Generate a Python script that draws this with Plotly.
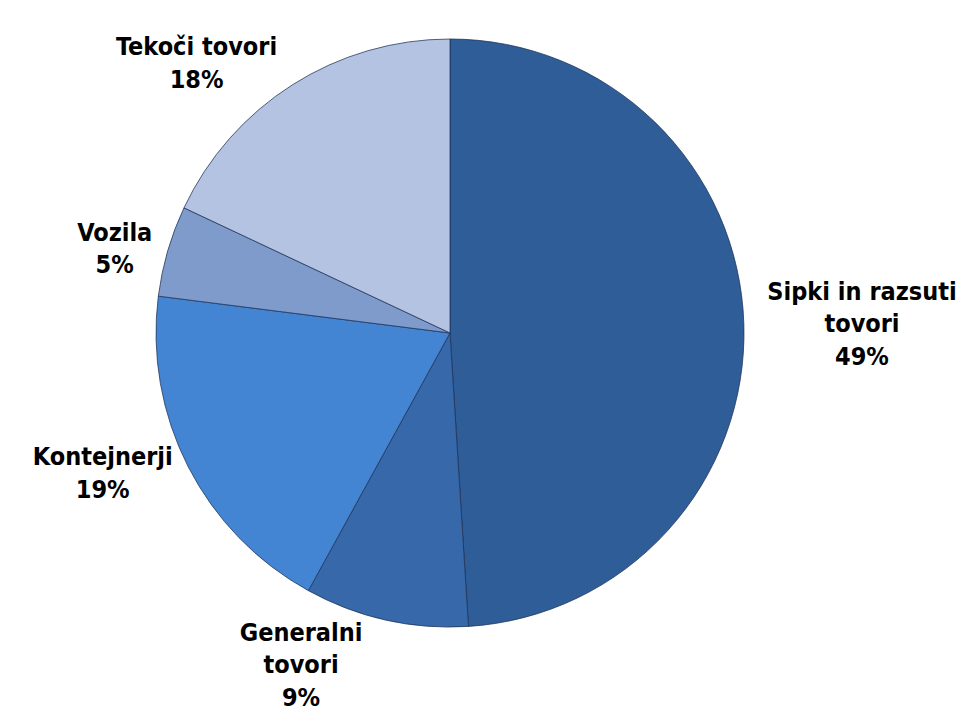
import plotly.graph_objects as go

labels = ["Sipki in razsuti<br>tovori", "Generalni<br>tovori", "Kontejnerji", "Vozila", "Tekoči tovori"]
values = [49, 9, 19, 5, 18]
colors = ["#2E5D98", "#3668AA", "#4485D3", "#7F9BCC", "#B3C3E1"]

fig = go.Figure(
    go.Pie(
        labels=labels,
        values=values,
        sort=False,
        direction="clockwise",
        rotation=0,
        marker=dict(colors=colors, line=dict(color="rgba(30,50,85,0.75)", width=1)),
        textinfo="label+percent",
        textposition="outside",
        textfont=dict(family="DejaVu Sans Condensed, DejaVu Sans", size=25, color="black", weight="bold"),
        showlegend=False,
        hoverinfo="none",
        domain=dict(x=[148 / 970, 736 / 970], y=[1 - 619 / 713, 1 - 31 / 713]),
    )
)

fig.update_layout(
    width=970,
    height=713,
    margin=dict(l=0, r=0, t=0, b=0),
    paper_bgcolor="white",
    plot_bgcolor="white",
)

fig.write_html("out.html")
